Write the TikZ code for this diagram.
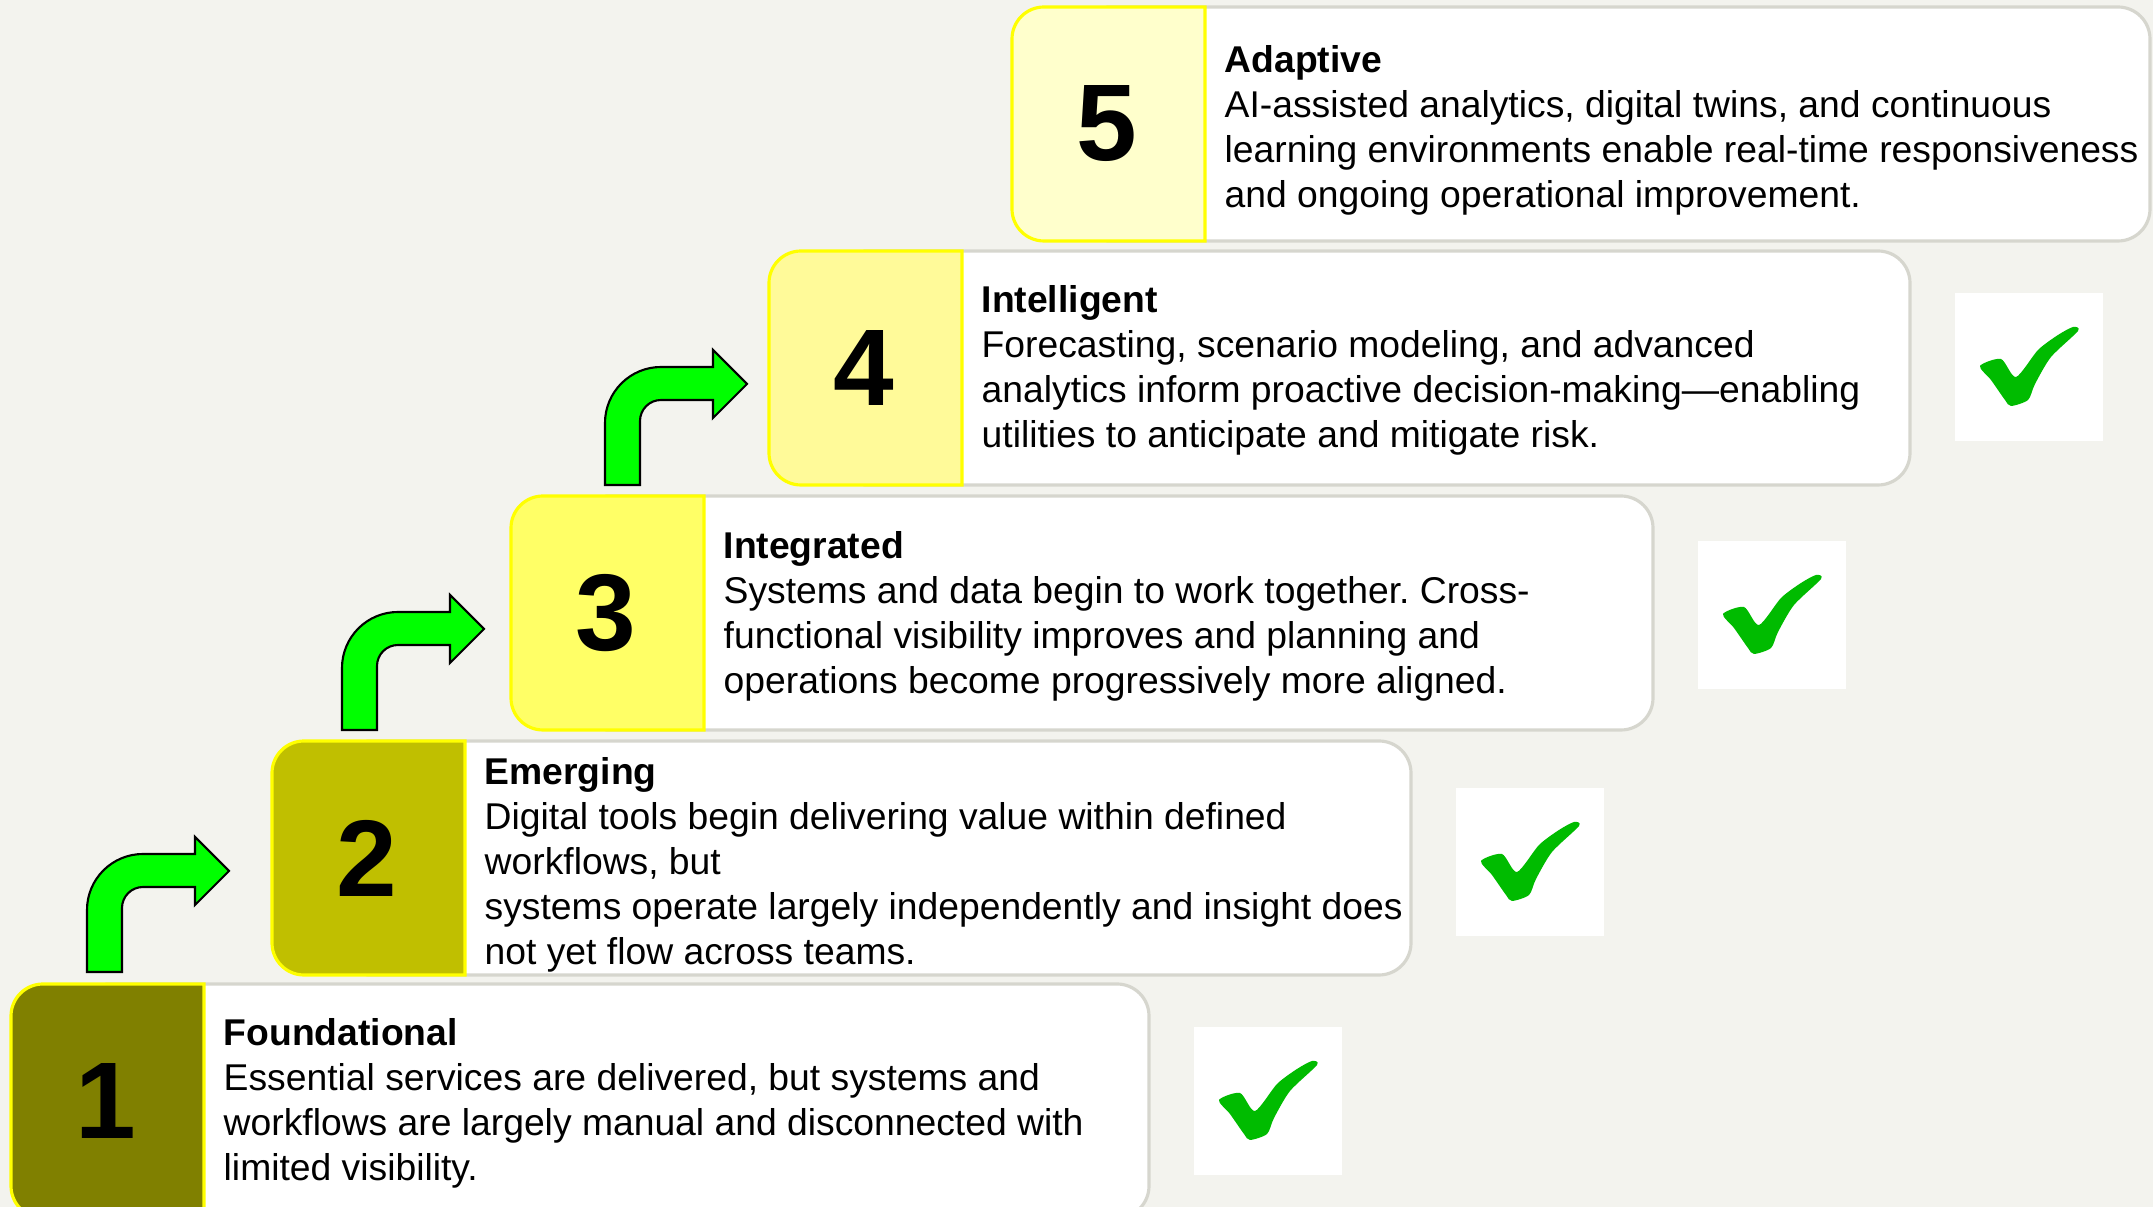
\documentclass[tikz,border=0pt]{standalone}
\usepackage{fontspec}
\setmainfont{Liberation Sans}
\frenchspacing
\definecolor{bgcol}{HTML}{F3F3EE}
\definecolor{boxline}{HTML}{D6D6CE}
\definecolor{sqline}{HTML}{FFFF00}
\definecolor{lvlA}{HTML}{808000}
\definecolor{lvlB}{HTML}{C0BF00}
\definecolor{lvlC}{HTML}{FFFF66}
\definecolor{lvlD}{HTML}{FFFA99}
\definecolor{lvlE}{HTML}{FFFFCC}
\definecolor{arrowgreen}{HTML}{00FF00}
\definecolor{tickgreen}{HTML}{00BB00}
\tikzset{
  txtbox/.style={draw=boxline,line width=0.9pt,fill=white},
  numbox/.style={draw=sqline,line width=0.9pt},
  numtext/.style={inner sep=0pt,font=\fontsize{31}{31}\selectfont\bfseries},
  desc/.style={anchor=base west,align=left,inner sep=0pt,font=\fontsize{10.6}{12.8}\selectfont},
  chkbox/.style={fill=white,draw=none,minimum size=1.48cm,inner sep=0pt,anchor=north west},
  arrowsty/.style={fill=arrowgreen,draw=black,line width=0.6pt},
  uparrow/.pic={\draw[arrowsty] (0,0) -- (0,-62) arc[start angle=180,end angle=270,radius=56]
      -- (108,-118) -- (108,-135) -- (142,-101) -- (108,-67) -- (108,-85) -- (56,-85)
      arc[start angle=270,end angle=180,radius=21] -- (35,0) -- cycle;},
  tick/.pic={\fill[tickgreen] plot[smooth cycle,tension=0.45] coordinates {(26,74) (47,67) (62,85) (84,58) (104,43) (119,35) (124,39) (97,65) (81,92) (74,108) (57,114) (51,108) (37,88)};}
}
% #1 name, #2 left, #3 top, #4 right, #5 colour, #6 number, #7 text, #8 number of body lines, #9 title baseline offset
\newcommand\stagebox[9]{%
  \draw[txtbox] ({#2+96},#3) -- ({#4-32},#3) arc[start angle=270,end angle=360,radius=32]
     -- (#4,{#3+234-32}) arc[start angle=0,end angle=90,radius=32] -- ({#2+96},{#3+234}) -- cycle;
  \draw[numbox,fill=#5] ({#2+193},#3) -- ({#2+32},#3) arc[start angle=270,end angle=180,radius=32]
     -- (#2,{#3+234-32}) arc[start angle=180,end angle=90,radius=32] -- ({#2+193},{#3+234}) -- cycle;
  \node[numtext] (num#1) at ({#2+95},{#3+117}) {#6};
  \node[desc] (txt#1) at ({#2+212},{#3+#9+45*#8}) {#7};
}
\begin{document}
\begin{tikzpicture}[x=0.01cm,y=-0.01cm]
\useasboundingbox (0,0) rectangle (2153,1207);
\fill[bgcol] (0,0) rectangle (2153,1207);
\clip (0,0) rectangle (2153,1207);

\stagebox{5}{1012}{7}{2150}{lvlE}{5}{\textbf{Adaptive}\\AI-assisted analytics, digital twins, and continuous\\learning environments enable real-time responsiveness\\and ongoing operational improvement.}{3}{66}
\stagebox{4}{769}{251}{1910}{lvlD}{4}{\textbf{Intelligent}\\Forecasting, scenario modeling, and advanced\\analytics inform proactive decision-making—enabling\\utilities to anticipate and mitigate risk.}{3}{62}
\stagebox{3}{511}{496}{1653}{lvlC}{3}{\textbf{Integrated}\\Systems and data begin to work together. Cross-\\functional visibility improves and planning and\\operations become progressively more aligned.}{3}{63}
\stagebox{2}{272}{741}{1411}{lvlB}{2}{\textbf{Emerging}\\Digital tools begin delivering value within defined\\workflows, but\\systems operate largely independently and insight does\\not yet flow across teams.}{4}{44}
\stagebox{1}{11}{984}{1149}{lvlA}{1}{\textbf{Foundational}\\Essential services are delivered, but systems and\\workflows are largely manual and disconnected with\\limited visibility.}{3}{62}

\pic at (87,972) {uparrow};
\pic at (342,730) {uparrow};
\pic at (605,485) {uparrow};

\node[chkbox] (chk1) at (1193,1026) {};
\node[chkbox] (chk2) at (1455,787) {};
\node[chkbox] (chk3) at (1697,540) {};
\node[chkbox] (chk4) at (1954,292) {};
\pic at (chk1.north west) {tick};
\pic at (chk2.north west) {tick};
\pic at (chk3.north west) {tick};
\pic at (chk4.north west) {tick};
\end{tikzpicture}
\end{document}
